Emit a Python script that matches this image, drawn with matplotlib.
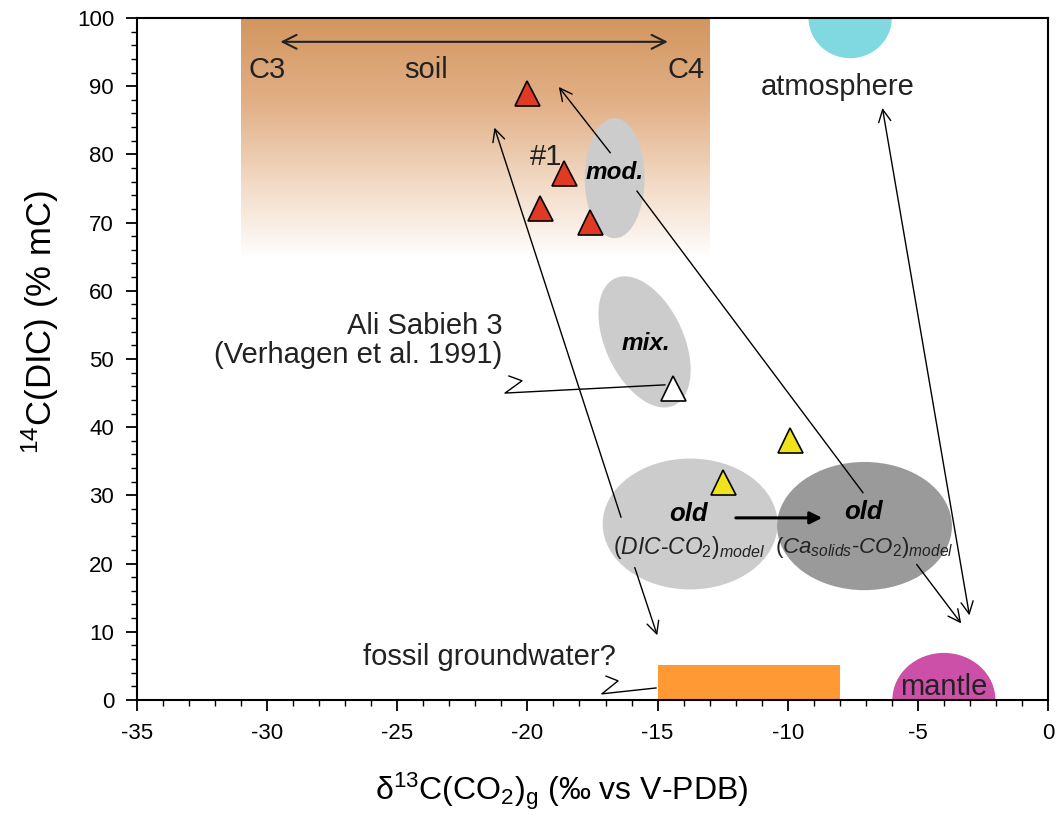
import numpy as np
import matplotlib
matplotlib.use('Agg')
import matplotlib.pyplot as plt
from matplotlib.patches import Ellipse, Rectangle, Polygon
from matplotlib.colors import LinearSegmentedColormap

plt.rcParams['font.family'] = ['Liberation Sans', 'DejaVu Sans']
plt.rcParams['mathtext.fontset'] = 'custom'
plt.rcParams['mathtext.rm'] = 'Liberation Sans'
plt.rcParams['mathtext.it'] = 'Liberation Sans:italic'
plt.rcParams['mathtext.bf'] = 'Liberation Sans:bold'
plt.rcParams['axes.unicode_minus'] = False

# ── data ─────────────────────────────────────────────────────
red_x = [-20.0, -18.6, -19.5, -17.6]
red_y = [89.0, 77.3, 72.1, 70.1]
yellow_x = [-12.5, -9.9]
yellow_y = [32.0, 38.1]
white_x = [-14.4]
white_y = [45.7]

soil_x = (-31.0, -13.0)
soil_y = (65.0, 100.0)
fossil_x = (-15.0, -8.0)
fossil_top = 5.1
atmos_c = (-7.6, 100.0)
mantle_c = (-4.0, 0.0)

# ellipses: center x, center y, width (x units), height (y units)
mod_ell = (-16.65, 76.5, 2.3, 17.6)
dic_ell = (-13.75, 25.8, 6.72, 19.2)
ca_ell = (-7.05, 25.5, 6.72, 18.8)
mix_ell = (-15.5, 52.5)

W, H = 10.59, 8.16
L, R, B, T = 0.1294, 0.9896, 0.1422, 0.978

fig = plt.figure(figsize=(W, H), dpi=100)
ax = fig.add_axes([L, B, R - L, T - B])

pxx = (R - L) * W * 100 / 35.0
pxy = (T - B) * H * 100 / 100.0

# soil gradient
cmap = LinearSegmentedColormap.from_list('soil', ['#ffffff', '#f3dcc8', '#e2b188', '#d3965f'])
grad = np.linspace(0, 1, 256).reshape(-1, 1) ** 0.9
ax.imshow(grad, extent=[soil_x[0], soil_x[1], soil_y[0], soil_y[1]], origin='lower',
          cmap=cmap, aspect='auto', zorder=0)
ax.set_xlim(-35, 0)
ax.set_ylim(0, 100)

ax.add_patch(Ellipse(atmos_c, 3.2, 11.8, color='#80d8e0', zorder=1, lw=0))
ax.add_patch(Ellipse(mantle_c, 3.96, 13.8, color='#cc4fa8', zorder=1, lw=0))
ax.add_patch(Rectangle((fossil_x[0], 0), fossil_x[1] - fossil_x[0], fossil_top,
                       color='#ff9933', lw=0, zorder=1))

for (cx, cy, w, h), c in [(mod_ell, '#cccccc'), (dic_ell, '#cccccc'), (ca_ell, '#9a9a9a')]:
    ax.add_patch(Ellipse((cx, cy), w, h, color=c, lw=0, zorder=1))

# tilted "mix." ellipse, drawn in screen-like units
t = np.linspace(0, 2 * np.pi, 200)
a, b, th = 70, 39, np.deg2rad(115)
u, v = a * np.cos(t), b * np.sin(t)
ex = mix_ell[0] + (u * np.cos(th) - v * np.sin(th)) / pxx
ey = mix_ell[1] + (u * np.sin(th) + v * np.cos(th)) / pxy
ax.add_patch(Polygon(np.column_stack([ex, ey]), closed=True, color='#cccccc', lw=0, zorder=1))

# arrows
arw = dict(arrowstyle='->', color='black', lw=1.0, mutation_scale=22)
ax.annotate('', xy=(-14.5, 96.5), xytext=(-29.6, 96.5),
            arrowprops=dict(arrowstyle='<->', color='#222222', lw=1.5, mutation_scale=25), zorder=3)
ax.annotate('', xy=(-21.3, 84.3), xytext=(-16.37, 26.4), arrowprops=arw, zorder=3)
ax.annotate('', xy=(-14.98, 9.1), xytext=(-15.91, 19.8), arrowprops=arw, zorder=3)
ax.annotate('', xy=(-18.86, 90.2), xytext=(-16.75, 79.9), arrowprops=arw, zorder=3)
ax.plot([-15.79, -7.11], [74.6, 30.4], color='black', lw=1.0, zorder=3)
ax.annotate('', xy=(-3.27, 10.9), xytext=(-5.11, 20.2), arrowprops=arw, zorder=3)
ax.annotate('', xy=(-3.0, 12.0), xytext=(-6.38, 87.2),
            arrowprops=dict(arrowstyle='<->', color='black', lw=1.0, mutation_scale=22), zorder=3)
ax.annotate('', xy=(-8.57, 26.7), xytext=(-12.1, 26.7),
            arrowprops=dict(arrowstyle='-|>', color='black', lw=2.2, mutation_scale=18), zorder=3)

# callout lines
ax.plot([-20.71, -20.21, -20.86, -14.72], [47.5, 46.8, 45.0, 46.2], color='black', lw=1.0, zorder=3)
ax.plot([-16.98, -16.52, -17.14, -15.06], [3.5, 2.8, 0.9, 1.76], color='black', lw=1.0, zorder=3)

# markers
mk = dict(marker='^', ms=18, mec='black', mew=1.2, ls='none', zorder=4)
ax.plot(red_x, red_y, mfc='#e03a24', **mk)
ax.plot(yellow_x, yellow_y, mfc='#f0e21b', **mk)
ax.plot(white_x, white_y, mfc='white', **mk)

# texts
fs = 21
tc = '#222222'
ax.text(-30.0, 92.3, 'C3', fontsize=fs, ha='center', va='center', color=tc, zorder=5)
ax.text(-23.9, 92.3, 'soil', fontsize=fs, ha='center', va='center', color=tc, zorder=5)
ax.text(-13.9, 92.3, 'C4', fontsize=fs, ha='center', va='center', color=tc, zorder=5)
ax.text(-8.07, 89.9, 'atmosphere', fontsize=fs, ha='center', va='center', color=tc, zorder=5)
ax.text(-19.3, 79.6, '#1', fontsize=fs, ha='center', va='center', color=tc, zorder=5)
ax.text(-16.65, 77.4, 'mod.', fontsize=17.5, ha='center', va='center',
        fontweight='bold', fontstyle='italic', zorder=5)
ax.text(-15.45, 52.3, 'mix.', fontsize=17.5, ha='center', va='center',
        fontweight='bold', fontstyle='italic', zorder=5)
ax.text(-20.95, 54.8, 'Ali Sabieh 3', fontsize=fs, ha='right', va='center', color=tc, zorder=5)
ax.text(-20.95, 50.6, '(Verhagen et al. 1991)', fontsize=fs, ha='right', va='center', color=tc, zorder=5)
ax.text(-13.8, 27.2, 'old', fontsize=18.5, ha='center', va='center',
        fontweight='bold', fontstyle='italic', zorder=5)
ax.text(-13.8, 22.3, r'$\it{(DIC}$-$\it{CO_2)_{model}}$', fontsize=16.5, ha='center', va='center',
        color=tc, zorder=5)
ax.text(-7.07, 27.6, 'old', fontsize=18.5, ha='center', va='center',
        fontweight='bold', fontstyle='italic', zorder=5)
ax.text(-7.07, 22.3, r'$\it{(Ca_{solids}}$-$\it{CO_2)_{model}}$', fontsize=16, ha='center', va='center',
        color=tc, zorder=5)
ax.text(-16.6, 6.3, 'fossil groundwater?', fontsize=fs, ha='right', va='center', color=tc, zorder=5)
ax.text(-4.0, 1.9, 'mantle', fontsize=fs, ha='center', va='center', color=tc, zorder=5)

# axes styling
ax.set_xticks(np.arange(-35, 1, 5))
ax.set_xticks(np.arange(-35, 1, 1), minor=True)
ax.set_yticks(np.arange(0, 101, 10))
ax.set_yticks(np.arange(0, 101, 2), minor=True)
ax.tick_params(which='major', direction='out', length=8, width=1.3, labelsize=16, pad=8.5)
ax.tick_params(which='minor', direction='out', length=4.5, width=1.0)
for s in ax.spines.values():
    s.set_linewidth(1.5)

ax.set_xlabel('δ$^{13}$C(CO$_2$)$_\\mathrm{g}$ (‰ vs V-PDB)', fontsize=23)
ax.set_ylabel(r'$^{14}$C(DIC) (% mC)', fontsize=25)
ax.xaxis.set_label_coords(0.4665, -0.104)
ax.yaxis.set_label_coords(-0.084, 0.554)

plt.savefig('out.png', dpi=100)
